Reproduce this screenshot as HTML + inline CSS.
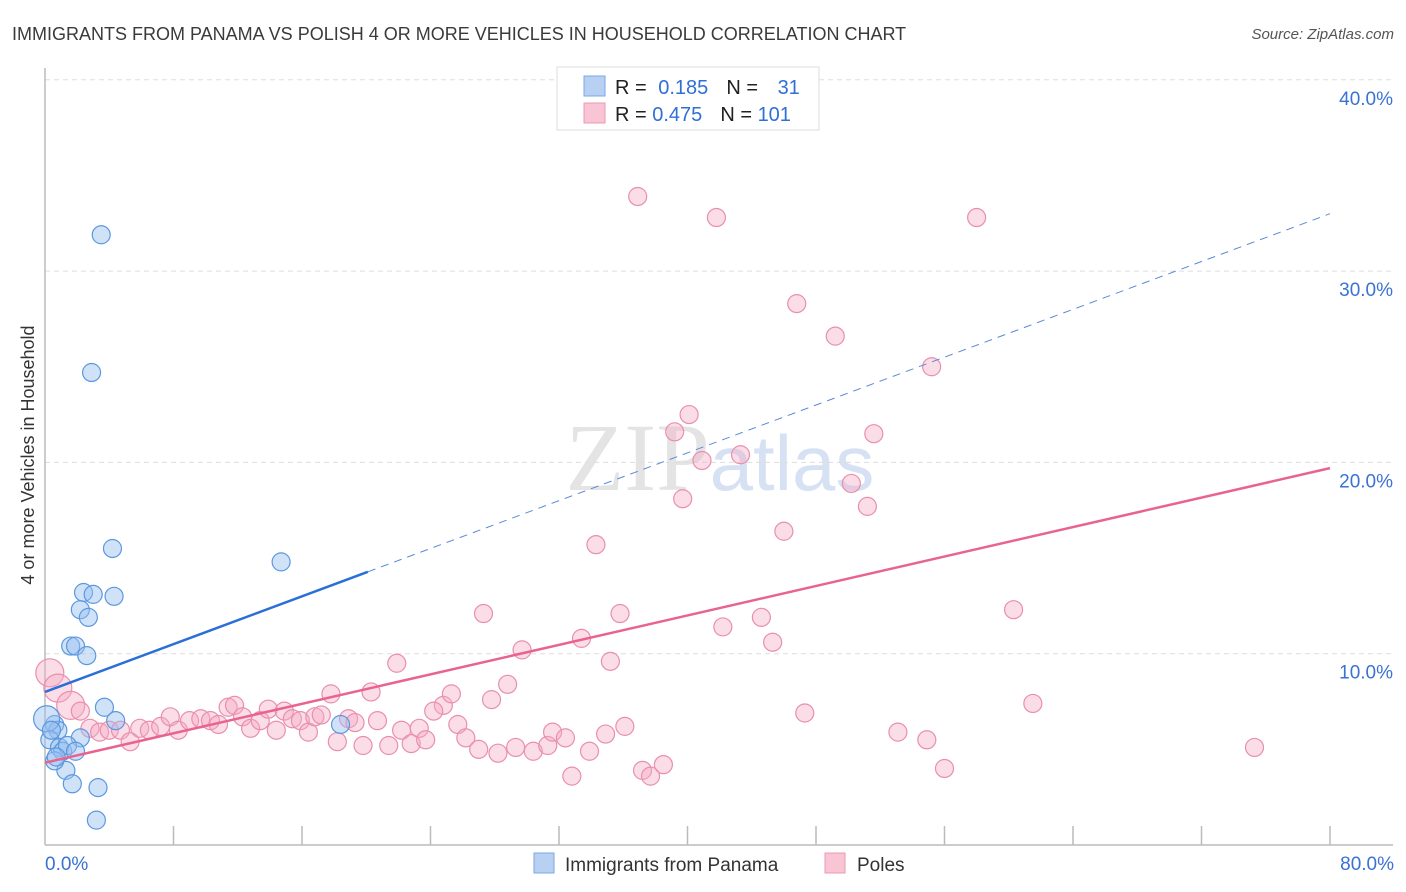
<!DOCTYPE html>
<html><head><meta charset="utf-8"><style>
body{margin:0;background:#fff;font-family:"Liberation Sans",sans-serif}
svg{display:block}
</style></head><body>
<svg id="chart" width="1406" height="892" viewBox="0 0 1406 892" xmlns="http://www.w3.org/2000/svg" font-family="Liberation Sans, sans-serif">
<text x="12" y="40" font-size="18" fill="#3a3a3a">IMMIGRANTS FROM PANAMA VS POLISH 4 OR MORE VEHICLES IN HOUSEHOLD CORRELATION CHART</text>
<text x="1394" y="39" font-size="15" fill="#555" font-style="italic" text-anchor="end">Source: ZipAtlas.com</text>
<text x="720" y="490" font-size="96" fill="#e4e4e4" text-anchor="middle" font-family="Liberation Serif, serif">ZIP<tspan fill="#d6e2f3" font-family="Liberation Sans, sans-serif" font-size="78">atlas</tspan></text>
<g id="grid"></g>
<g id="axes"></g>
<g id="points"></g>
<g id="trends"></g>
<text transform="translate(34,455) rotate(-90)" font-size="18" fill="#333" text-anchor="middle">4 or more Vehicles in Household</text>
<g>
<rect x="557" y="67" width="262" height="63" fill="#fff" stroke="#ddd"/>
<rect x="584" y="76" width="21" height="20" fill="#b8d1f3" stroke="#7ba7e6"/>
<rect x="584" y="103" width="21" height="20" fill="#f9c4d4" stroke="#ec9ab5"/>
<text x="615" y="94" font-size="20" fill="#222">R = <tspan fill="#2f6fd6" dx="6">0.185</tspan><tspan fill="#222" dx="18">N = </tspan><tspan fill="#2f6fd6" dx="14">31</tspan></text>
<text x="615" y="121" font-size="20" fill="#222">R = <tspan fill="#2f6fd6">0.475</tspan><tspan fill="#222" dx="18">N = </tspan><tspan fill="#2f6fd6">101</tspan></text>
</g>
<g>
<rect x="534" y="853" width="20" height="20" fill="#b8d1f3" stroke="#7ba7e6"/>
<text x="565" y="871" font-size="19" fill="#333">Immigrants from Panama</text>
</g>
<g>
<rect x="825" y="853" width="20" height="20" fill="#f9c4d4" stroke="#ec9ab5"/>
<text x="857" y="871" font-size="19" fill="#333">Poles</text>
</g>
</svg>
<script>
const pinkX=[36.9,41.8,58.0,46.8,49.2,55.2,40.1,39.2,51.6,40.9,43.3,50.2,39.7,51.2,46.0,34.3,60.3,27.3,35.8,42.2,44.6,33.4,45.3,29.7,35.2,21.9,61.5,47.3,28.8,27.8,24.8,25.3,24.2,20.3,17.8,25.7,26.2,27.0,28.2,29.3,30.4,31.3,31.6,32.4,32.8,33.9,34.9,36.1,37.2,37.7,38.5,53.1,54.9,56.0,75.3,0.3,0.8,1.6,2.2,2.8,3.4,4.0,4.7,5.3,5.9,6.5,7.2,7.8,8.3,9.0,9.7,10.3,10.8,11.4,11.8,12.3,12.8,13.4,13.9,14.4,14.9,15.4,15.9,16.4,16.8,17.2,18.2,18.9,19.3,19.8,20.7,21.4,22.2,22.8,23.3,23.7];
const pinkY=[33.9,32.8,32.8,28.3,26.6,25.0,22.5,21.6,21.5,20.1,20.4,18.9,18.1,17.7,16.4,15.7,12.3,12.1,12.1,11.4,11.9,10.8,10.6,10.2,9.6,9.5,7.4,6.9,8.4,7.6,7.3,7.9,7.0,8.0,7.9,6.3,5.6,5.0,4.8,5.1,4.9,5.2,5.9,5.6,3.6,4.9,5.8,6.2,3.9,3.6,4.2,5.9,5.5,4.0,5.1,9.0,8.2,7.3,7.0,6.1,5.9,6.0,6.0,5.4,6.1,6.0,6.2,6.7,6.0,6.5,6.6,6.5,6.3,7.2,7.3,6.7,6.1,6.5,7.1,6.0,7.0,6.6,6.5,5.9,6.7,6.8,5.4,6.6,6.4,5.2,6.5,5.2,6.0,5.3,6.1,5.5];
const blueX=[3.5,2.9,4.2,14.7,2.4,3.0,4.3,2.2,2.7,1.6,1.9,2.6,3.7,4.4,2.2,0.6,0.8,0.1,0.3,0.9,1.1,1.3,1.7,3.3,3.2,0.6,1.4,1.9,18.4,0.4,0.7];
const blueY=[31.9,24.7,15.5,14.8,13.2,13.1,13.0,12.3,11.9,10.4,10.4,9.9,7.2,6.5,5.6,6.3,6.0,6.6,5.5,5.1,4.9,3.9,3.2,3.0,1.3,4.4,5.2,4.9,6.3,6.0,4.6];
const yTicks=[10,20,30,40];
const yTickLabels=["10.0%","20.0%","30.0%","40.0%"];
const xTickLabels=["0.0%","80.0%"];
const blueTrend=[8.0,33.0];   // y at x=0 and x=80
const pinkTrend=[4.3,19.7];
const blueSolidEnd=20.1;

const NS="http://www.w3.org/2000/svg";
const X=v=>45+v*16.0625;
const Y=v=>845-v*19.13;
function mk(tag,attrs,parent){const e=document.createElementNS(NS,tag);for(const k in attrs)e.setAttribute(k,attrs[k]);parent.appendChild(e);return e;}
const grid=document.getElementById('grid'),axes=document.getElementById('axes'),pts=document.getElementById('points'),tr=document.getElementById('trends');
yTicks.forEach((t,i)=>{
 const l=mk('line',{x1:45,x2:1393,y1:Y(t),y2:Y(t),stroke:'#ddd','stroke-dasharray':'5,4'},grid);
 
 
 const tx=mk('text',{x:1393,y:Y(t)+25,'font-size':19,fill:'#3a72d4','text-anchor':'end'},grid);
 tx.textContent=yTickLabels[i];
 
 
});
const ax=mk('line',{x1:45,x2:1393,y1:845,y2:845,stroke:'#bbb','stroke-width':1.5},axes);


const ay=mk('line',{x1:45,x2:45,y1:68,y2:845,stroke:'#bbb','stroke-width':1.5},axes);


for(let i=1;i<=10;i++){
 const t=mk('line',{x1:X(i*8),x2:X(i*8),y1:826,y2:845,stroke:'#bbb','stroke-width':1.5},axes);
 
 
}
[[0,'start',45],[80,'end',1394]].forEach((d,i)=>{
 const t=mk('text',{x:d[2],y:870,'font-size':19,fill:'#3a72d4','text-anchor':d[1]},axes);
 t.textContent=xTickLabels[i];
 
 
});
pinkX.forEach((x,i)=>{
 const r=i>=55&&i<58?14:9;
 const c=mk('circle',{cx:X(x),cy:Y(pinkY[i]),r:r,fill:'rgba(246,170,195,0.4)',stroke:'#e98fac','stroke-width':1.2},pts);
 
 
});
blueX.forEach((x,i)=>{
 const r=i===17?13:9;
 const c=mk('circle',{cx:X(x),cy:Y(blueY[i]),r:r,fill:'rgba(150,190,240,0.45)',stroke:'#5b98e0','stroke-width':1.2},pts);
 
 
});
const bAt=x=>blueTrend[0]+(blueTrend[1]-blueTrend[0])*x/80;
const b1=mk('line',{x1:X(0),y1:Y(bAt(0)),x2:X(blueSolidEnd),y2:Y(bAt(blueSolidEnd)),stroke:'#2a6fd6','stroke-width':2.5},tr);


const b2=mk('line',{x1:X(blueSolidEnd),y1:Y(bAt(blueSolidEnd)),x2:X(80),y2:Y(bAt(80)),stroke:'#5b8ad6','stroke-width':1,'stroke-dasharray':'8,6'},tr);


const p1=mk('line',{x1:X(0),y1:Y(pinkTrend[0]),x2:X(80),y2:Y(pinkTrend[1]),stroke:'#e8648f','stroke-width':2.5},tr);


</script>
</body></html>
